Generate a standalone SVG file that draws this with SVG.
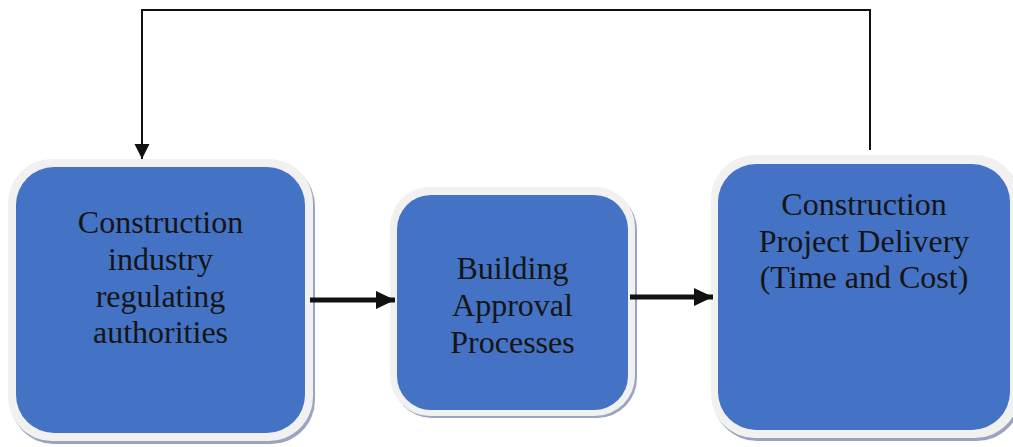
<svg xmlns="http://www.w3.org/2000/svg" width="1013" height="447" viewBox="0 0 1013 447">
<style>
.shadow{fill:#9aa4bf}
.frame{fill:#f1f1f1}
.fill{fill:#4472c4}
.lbl{font-family:"Liberation Serif","Times New Roman",serif;font-size:32px;fill:#151515;text-anchor:middle}
.thick{stroke:#111;stroke-width:5;fill:none}
.thin{stroke:#111;stroke-width:2;fill:none}
</style>
<defs>
<marker id="headBig" markerUnits="userSpaceOnUse" markerWidth="20" markerHeight="18" refX="19" refY="9" orient="auto">
<path d="M0,0 L19,9 L0,18 Z" fill="#111"/>
</marker>
<marker id="headSmall" markerUnits="userSpaceOnUse" markerWidth="16" markerHeight="16" refX="15" refY="7.5" orient="auto">
<path d="M0,0 L15,7.5 L0,15 Z" fill="#111"/>
</marker>
</defs>
<rect width="1013" height="447" fill="#ffffff"/>
<g id="node-authorities">
<rect class="shadow" x="10" y="162" width="305" height="282" rx="44"/>
<rect class="frame" x="8" y="159" width="305" height="282" rx="44"/>
<rect class="fill" x="16" y="167" width="289" height="266" rx="38"/>
<text class="lbl" x="160.5" y="233">Construction</text>
<text class="lbl" x="160.5" y="270">industry</text>
<text class="lbl" x="160.5" y="307">regulating</text>
<text class="lbl" x="160.5" y="343">authorities</text>
</g>
<g id="node-approval">
<rect class="shadow" x="392" y="190" width="245" height="228" rx="40"/>
<rect class="frame" x="390" y="187" width="245" height="229" rx="40"/>
<rect class="fill" x="397" y="195" width="231" height="215" rx="34"/>
<text class="lbl" x="512.5" y="279">Building</text>
<text class="lbl" x="512.5" y="316">Approval</text>
<text class="lbl" x="512.5" y="353">Processes</text>
</g>
<g id="node-delivery">
<rect class="shadow" x="713" y="158" width="308" height="283" rx="44"/>
<rect class="frame" x="711" y="155" width="308" height="283" rx="44"/>
<rect class="fill" x="718" y="164" width="292" height="266" rx="38"/>
<text class="lbl" x="864" y="215">Construction</text>
<text class="lbl" x="864" y="252">Project Delivery</text>
<text class="lbl" x="864" y="288">(Time and Cost)</text>
</g>
<g id="connectors">
<line class="thick" x1="310" y1="300" x2="395" y2="300" marker-end="url(#headBig)"/>
<line class="thick" x1="630" y1="297" x2="713" y2="297" marker-end="url(#headBig)"/>
<polyline class="thin" points="870,150 870,10 142,10 142,159" marker-end="url(#headSmall)"/>
</g>
</svg>
